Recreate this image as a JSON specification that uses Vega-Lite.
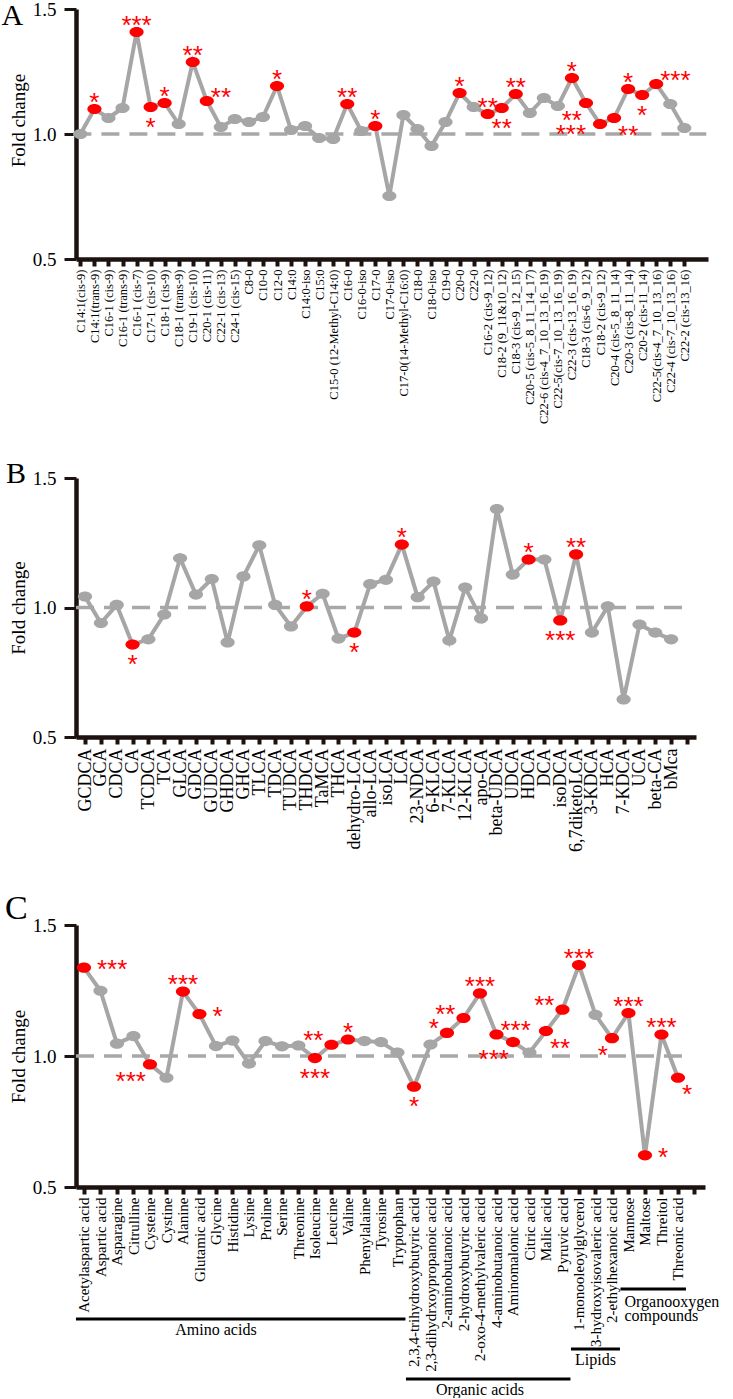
{
  "$schema": "https://vega.github.io/schema/vega-lite/v6.json",
  "padding": {"left": 1, "top": 0, "right": 0, "bottom": 0},
  "autosize": {"type": "pad"},
  "background": "white",
  "spacing": 0,
  "config": {
    "view": {"stroke": null},
    "font": "Liberation Serif",
    "axis": {"labelFont": "Liberation Serif", "titleFont": "Liberation Serif", "labelColor": "#000000", "titleColor": "#000000", "domainColor": "#1c1210", "tickColor": "#1c1210", "grid": false, "titleFontWeight": "normal"}
  },
  "datasets": {
    "fatty": [
      {"compound": "C14:1(cis-9)", "fc": 1.0, "sig": "", "side": ""},
      {"compound": "C14:1(trans-9)", "fc": 1.1, "sig": "*", "side": "above"},
      {"compound": "C16-1 (cis-9)", "fc": 1.064, "sig": "", "side": ""},
      {"compound": "C16-1 (trans-9)", "fc": 1.104, "sig": "", "side": ""},
      {"compound": "C16-1 (cis-7)", "fc": 1.408, "sig": "***", "side": "above"},
      {"compound": "C17-1 (cis-10)", "fc": 1.108, "sig": "*", "side": "below"},
      {"compound": "C18-1 (cis-9)", "fc": 1.124, "sig": "*", "side": "above"},
      {"compound": "C18-1 (trans-9)", "fc": 1.04, "sig": "", "side": ""},
      {"compound": "C19-1 (cis-10)", "fc": 1.288, "sig": "**", "side": "above"},
      {"compound": "C20-1 (cis-11)", "fc": 1.132, "sig": "**", "side": "upper-right"},
      {"compound": "C22-1 (cis-13)", "fc": 1.028, "sig": "", "side": ""},
      {"compound": "C24-1 (cis-15)", "fc": 1.06, "sig": "", "side": ""},
      {"compound": "C8-0", "fc": 1.048, "sig": "", "side": ""},
      {"compound": "C10-0", "fc": 1.068, "sig": "", "side": ""},
      {"compound": "C12-0", "fc": 1.192, "sig": "*", "side": "above"},
      {"compound": "C14:0", "fc": 1.016, "sig": "", "side": ""},
      {"compound": "C14:0-iso", "fc": 1.032, "sig": "", "side": ""},
      {"compound": "C15:0", "fc": 0.984, "sig": "", "side": ""},
      {"compound": "C15-0 (12-Methyl-C14:0)", "fc": 0.98, "sig": "", "side": ""},
      {"compound": "C16-0", "fc": 1.12, "sig": "**", "side": "above"},
      {"compound": "C16-0-iso", "fc": 1.012, "sig": "", "side": ""},
      {"compound": "C17-0", "fc": 1.032, "sig": "*", "side": "above"},
      {"compound": "C17-0-iso", "fc": 0.752, "sig": "", "side": ""},
      {"compound": "C17-0(14-Methyl-C16:0)", "fc": 1.076, "sig": "", "side": ""},
      {"compound": "C18-0", "fc": 1.02, "sig": "", "side": ""},
      {"compound": "C18-0-iso", "fc": 0.952, "sig": "", "side": ""},
      {"compound": "C19-0", "fc": 1.048, "sig": "", "side": ""},
      {"compound": "C20-0", "fc": 1.164, "sig": "*", "side": "above"},
      {"compound": "C22-0", "fc": 1.108, "sig": "", "side": ""},
      {"compound": "C16-2 (cis-9_12)", "fc": 1.08, "sig": "**", "side": "above"},
      {"compound": "C18-2 (9_11&10_12)", "fc": 1.104, "sig": "**", "side": "below"},
      {"compound": "C18-3 (cis-9_12_15)", "fc": 1.16, "sig": "**", "side": "above"},
      {"compound": "C20-5 (cis-5_8_11_14_17)", "fc": 1.084, "sig": "", "side": ""},
      {"compound": "C22-6 (cis-4_7_10_13_16_19)", "fc": 1.144, "sig": "", "side": ""},
      {"compound": "C22-5(cis-7_10_13_16_19)", "fc": 1.112, "sig": "", "side": ""},
      {"compound": "C22-3 (cis-13_16_19)", "fc": 1.224, "sig": "*", "side": "above"},
      {"compound": "C18-3 (cis-6_9_12)", "fc": 1.124, "sig": "**", "side": "lower-left"},
      {"compound": "C18-2 (cis-9_12)", "fc": 1.04, "sig": "***", "side": "left"},
      {"compound": "C20-4 (cis-5_8_11_14)", "fc": 1.064, "sig": "**", "side": "lower-right"},
      {"compound": "C20-3 (cis-8_11_14)", "fc": 1.18, "sig": "*", "side": "above"},
      {"compound": "C20-2 (cis-11_14)", "fc": 1.156, "sig": "*", "side": "below"},
      {"compound": "C22-5(cis-4_7_10_13_16)", "fc": 1.2, "sig": "***", "side": "upper-right"},
      {"compound": "C22-4 (cis-7_10_13_16)", "fc": 1.12, "sig": "", "side": ""},
      {"compound": "C22-2 (cis-13_16)", "fc": 1.024, "sig": "", "side": ""}
    ],
    "bile": [
      {"compound": "GCDCA", "fc": 1.042, "sig": "", "side": ""},
      {"compound": "GCA", "fc": 0.94, "sig": "", "side": ""},
      {"compound": "CDCA", "fc": 1.01, "sig": "", "side": ""},
      {"compound": "CA", "fc": 0.857, "sig": "*", "side": "below"},
      {"compound": "TCDCA", "fc": 0.877, "sig": "", "side": ""},
      {"compound": "TCA", "fc": 0.973, "sig": "", "side": ""},
      {"compound": "GLCA", "fc": 1.19, "sig": "", "side": ""},
      {"compound": "GDCA", "fc": 1.05, "sig": "", "side": ""},
      {"compound": "GUDCA", "fc": 1.11, "sig": "", "side": ""},
      {"compound": "GHDCA", "fc": 0.865, "sig": "", "side": ""},
      {"compound": "GHCA", "fc": 1.12, "sig": "", "side": ""},
      {"compound": "TLCA", "fc": 1.24, "sig": "", "side": ""},
      {"compound": "TDCA", "fc": 1.01, "sig": "", "side": ""},
      {"compound": "TUDCA", "fc": 0.927, "sig": "", "side": ""},
      {"compound": "THDCA", "fc": 1.004, "sig": "*", "side": "above"},
      {"compound": "TaMCA", "fc": 1.053, "sig": "", "side": ""},
      {"compound": "THCA", "fc": 0.88, "sig": "", "side": ""},
      {"compound": "dehydro-LCA", "fc": 0.903, "sig": "*", "side": "below"},
      {"compound": "allo-LCA", "fc": 1.09, "sig": "", "side": ""},
      {"compound": "isoLCA", "fc": 1.107, "sig": "", "side": ""},
      {"compound": "LCA", "fc": 1.243, "sig": "*", "side": "above"},
      {"compound": "23-NDCA", "fc": 1.04, "sig": "", "side": ""},
      {"compound": "6-KLCA", "fc": 1.1, "sig": "", "side": ""},
      {"compound": "7-KLCA", "fc": 0.873, "sig": "", "side": ""},
      {"compound": "12-KLCA", "fc": 1.077, "sig": "", "side": ""},
      {"compound": "apo-CA", "fc": 0.958, "sig": "", "side": ""},
      {"compound": "beta-UDCA", "fc": 1.38, "sig": "", "side": ""},
      {"compound": "UDCA", "fc": 1.127, "sig": "", "side": ""},
      {"compound": "HDCA", "fc": 1.185, "sig": "*", "side": "above"},
      {"compound": "DCA", "fc": 1.185, "sig": "", "side": ""},
      {"compound": "isoDCA", "fc": 0.95, "sig": "***", "side": "below"},
      {"compound": "6,7diketoLCA", "fc": 1.205, "sig": "**", "side": "above"},
      {"compound": "3-KDCA", "fc": 0.903, "sig": "", "side": ""},
      {"compound": "HCA", "fc": 1.004, "sig": "", "side": ""},
      {"compound": "7-KDCA", "fc": 0.645, "sig": "", "side": ""},
      {"compound": "UCA", "fc": 0.934, "sig": "", "side": ""},
      {"compound": "beta-CA", "fc": 0.903, "sig": "", "side": ""},
      {"compound": "bMca", "fc": 0.877, "sig": "", "side": ""}
    ],
    "amino": [
      {"compound": "Acetylaspartic acid", "fc": 1.337, "sig": "***", "side": "right"},
      {"compound": "Aspartic acid", "fc": 1.249, "sig": "", "side": ""},
      {"compound": "Asparagine", "fc": 1.047, "sig": "", "side": ""},
      {"compound": "Citrulline", "fc": 1.076, "sig": "", "side": ""},
      {"compound": "Cysteine", "fc": 0.968, "sig": "***", "side": "lower-left"},
      {"compound": "Cystine", "fc": 0.917, "sig": "", "side": ""},
      {"compound": "Alanine", "fc": 1.246, "sig": "***", "side": "above"},
      {"compound": "Glutamic acid", "fc": 1.16, "sig": "*", "side": "right"},
      {"compound": "Glycine", "fc": 1.038, "sig": "", "side": ""},
      {"compound": "Histidine", "fc": 1.059, "sig": "", "side": ""},
      {"compound": "Lysine", "fc": 0.971, "sig": "", "side": ""},
      {"compound": "Proline", "fc": 1.057, "sig": "", "side": ""},
      {"compound": "Serine", "fc": 1.037, "sig": "", "side": ""},
      {"compound": "Threonine", "fc": 1.04, "sig": "", "side": ""},
      {"compound": "Isoleucine", "fc": 0.992, "sig": "***", "side": "below"},
      {"compound": "Leucine", "fc": 1.043, "sig": "**", "side": "upper-left"},
      {"compound": "Valine", "fc": 1.063, "sig": "*", "side": "above"},
      {"compound": "Phenylalaine", "fc": 1.057, "sig": "", "side": ""},
      {"compound": "Tyrosine", "fc": 1.053, "sig": "", "side": ""},
      {"compound": "Tryptophan", "fc": 1.013, "sig": "", "side": ""},
      {"compound": "2,3,4-trihydroxybutyric acid", "fc": 0.883, "sig": "*", "side": "below"},
      {"compound": "2,3-dihydrxoypropanoic acid", "fc": 1.044, "sig": "", "side": ""},
      {"compound": "2-aminobutanoic acid", "fc": 1.088, "sig": "*", "side": "upper-left"},
      {"compound": "2-hydroxybutyric acid", "fc": 1.145, "sig": "**", "side": "upper-left"},
      {"compound": "2-oxo-4-methylvaleric acid", "fc": 1.239, "sig": "***", "side": "above"},
      {"compound": "4-aminobutanoic acid", "fc": 1.082, "sig": "***", "side": "upper-right"},
      {"compound": "Aminomalonic acid", "fc": 1.053, "sig": "***", "side": "lower-left"},
      {"compound": "Citric acid", "fc": 1.013, "sig": "", "side": ""},
      {"compound": "Malic acid", "fc": 1.095, "sig": "**", "side": "lower-right"},
      {"compound": "Pyruvic acid", "fc": 1.177, "sig": "**", "side": "upper-left"},
      {"compound": "1-monooleoylglycerol", "fc": 1.347, "sig": "***", "side": "above"},
      {"compound": "3-hydroxyisovaleric acid", "fc": 1.157, "sig": "", "side": ""},
      {"compound": "2-ethylhexanoic acid", "fc": 1.068, "sig": "*", "side": "lower-left"},
      {"compound": "Mannose", "fc": 1.164, "sig": "***", "side": "above"},
      {"compound": "Maltose", "fc": 0.621, "sig": "*", "side": "right"},
      {"compound": "Threitol", "fc": 1.082, "sig": "***", "side": "above"},
      {"compound": "Threonic acid", "fc": 0.917, "sig": "*", "side": "lower-right"}
    ],
    "groups": [
      {"group": "Amino acids", "first": "Acetylaspartic acid", "last": "Tryptophan", "mid": "Glycine"},
      {"group": "Organic acids", "first": "2,3,4-trihydroxybutyric acid", "last": "Pyruvic acid", "mid": "2-oxo-4-methylvaleric acid"},
      {"group": "Lipids", "first": "1-monooleoylglycerol", "last": "2-ethylhexanoic acid", "mid": "3-hydroxyisovaleric acid"},
      {"group": "Organooxygen compounds", "first": "Mannose", "last": "Threonic acid", "mid": "Mannose"}
    ]
  },
  "vconcat": [
    {
      "width": 632,
      "height": 250,
      "layer": [
        {
          "data": {"values": [{"ref": 1}]},
          "mark": {"type": "rule", "color": "#a8a8a8", "strokeWidth": 3.5, "strokeDash": [18, 10], "xOffset": -7, "x2Offset": 22},
          "encoding": {
            "x": {"datum": "C14:1(cis-9)", "type": "nominal"},
            "x2": {"datum": "C22-2 (cis-13_16)"},
            "y": {"field": "ref", "type": "quantitative"}
          }
        },
        {
          "data": {"name": "fatty"},
          "mark": {"type": "line", "color": "#a6a6a6", "strokeWidth": 4},
          "encoding": {
            "x": {"field": "compound", "type": "nominal", "sort": null,
              "scale": {"type": "point", "domain": ["C14:1(cis-9)", "C14:1(trans-9)", "C16-1 (cis-9)", "C16-1 (trans-9)", "C16-1 (cis-7)", "C17-1 (cis-10)", "C18-1 (cis-9)", "C18-1 (trans-9)", "C19-1 (cis-10)", "C20-1 (cis-11)", "C22-1 (cis-13)", "C24-1 (cis-15)", "C8-0", "C10-0", "C12-0", "C14:0", "C14:0-iso", "C15:0", "C15-0 (12-Methyl-C14:0)", "C16-0", "C16-0-iso", "C17-0", "C17-0-iso", "C17-0(14-Methyl-C16:0)", "C18-0", "C18-0-iso", "C19-0", "C20-0", "C22-0", "C16-2 (cis-9_12)", "C18-2 (9_11&10_12)", "C18-3 (cis-9_12_15)", "C20-5 (cis-5_8_11_14_17)", "C22-6 (cis-4_7_10_13_16_19)", "C22-5(cis-7_10_13_16_19)", "C22-3 (cis-13_16_19)", "C18-3 (cis-6_9_12)", "C18-2 (cis-9_12)", "C20-4 (cis-5_8_11_14)", "C20-3 (cis-8_11_14)", "C20-2 (cis-11_14)", "C22-5(cis-4_7_10_13_16)", "C22-4 (cis-7_10_13_16)", "C22-2 (cis-13_16)"], "padding": 1.6, "align": 0.156},
              "axis": {"title": null, "labelAngle": -90, "labelFontSize": 12.5, "labelPadding": 3, "tickSize": 7, "tickWidth": 4, "domainWidth": 4.5, "labelOverlap": false, "labelBound": false, "labelLimit": 0, "minExtent": 200, "maxExtent": 200}},
            "y": {"field": "fc", "type": "quantitative",
              "scale": {"domain": [0.5, 1.5], "nice": false, "zero": false},
              "axis": {"values": [0.5, 1, 1.5], "format": ".1f", "title": "Fold change", "titleFontSize": 19, "titlePadding": 3, "titleY": 111, "labelFontSize": 19, "labelPadding": 8, "tickSize": 12, "tickWidth": 3, "domainWidth": 4.5, "labelFlush": false, "minExtent": 45, "maxExtent": 45}},
            "order": {"value": null}
          }
        },
        {
          "data": {"name": "fatty"},
          "mark": {"type": "point", "filled": true, "opacity": 1, "shape": "M-1,0A1,0.72,0,1,1,1,0A1,0.72,0,1,1,-1,0Z", "size": 200},
          "encoding": {
            "x": {"field": "compound", "type": "nominal"},
            "y": {"field": "fc", "type": "quantitative"},
            "color": {"condition": {"test": "datum.sig != ''", "value": "#ff0000"}, "value": "#a6a6a6"}
          }
        },
        {
          "data": {"name": "fatty"},
          "transform": [{"filter": "datum.sig != ''"}],
          "mark": {"type": "text", "color": "#ff0000", "font": "Liberation Sans", "fontSize": 26, "letterSpacing": 3, "baseline": "middle",
            "dx": {"expr": "datum.side=='right'?13:datum.side=='left'?-14:indexof(datum.side,'right')>=0?4:datum.side=='upper-left'?-8:datum.side=='lower-left'?-4:0"},
            "dy": {"expr": "(datum.side=='above'?-13:datum.side=='below'?14:indexof(datum.side,'upper')>=0?-10:indexof(datum.side,'lower')>=0?11:datum.side=='left'?4:-4)+6.5"},
            "align": {"expr": "indexof(datum.side,'right')>=0?'left':indexof(datum.side,'left')>=0?'right':'center'"}},
          "encoding": {
            "x": {"field": "compound", "type": "nominal"},
            "y": {"field": "fc", "type": "quantitative"},
            "text": {"field": "sig"}
          }
        },
        {
          "data": {"values": [{"panel": "A"}]},
          "mark": {"type": "text", "font": "Liberation Serif", "fontSize": 30, "align": "left", "baseline": "alphabetic", "dx": -79, "dy": 16, "color": "#000000"},
          "encoding": {
            "x": {"datum": "C14:1(cis-9)", "type": "nominal"},
            "y": {"datum": 1.5, "type": "quantitative"},
            "text": {"field": "panel"}
          }
        }
      ]
    },
    {
      "width": 620,
      "height": 259,
      "layer": [
        {
          "data": {"values": [{"ref": 1}]},
          "mark": {"type": "rule", "color": "#a8a8a8", "strokeWidth": 3.5, "strokeDash": [18, 10], "xOffset": -9, "x2Offset": 12},
          "encoding": {
            "x": {"datum": "GCDCA", "type": "nominal"},
            "x2": {"datum": "bMca"},
            "y": {"field": "ref", "type": "quantitative"}
          }
        },
        {
          "data": {"name": "bile"},
          "mark": {"type": "line", "color": "#a6a6a6", "strokeWidth": 4},
          "encoding": {
            "x": {"field": "compound", "type": "nominal", "sort": null,
              "scale": {"type": "point", "domain": ["GCDCA", "GCA", "CDCA", "CA", "TCDCA", "TCA", "GLCA", "GDCA", "GUDCA", "GHDCA", "GHCA", "TLCA", "TDCA", "TUDCA", "THDCA", "TaMCA", "THCA", "dehydro-LCA", "allo-LCA", "isoLCA", "LCA", "23-NDCA", "6-KLCA", "7-KLCA", "12-KLCA", "apo-CA", "beta-UDCA", "UDCA", "HDCA", "DCA", "isoDCA", "6,7diketoLCA", "3-KDCA", "HCA", "7-KDCA", "UCA", "beta-CA", "bMca", " "], "padding": 0.57, "align": 0.5},
              "axis": {"title": null, "labelAngle": -90, "labelFontSize": 18, "labelPadding": 4, "tickSize": 7, "tickWidth": 4, "domainWidth": 4.5, "labelOverlap": false, "labelBound": false, "labelLimit": 0, "minExtent": 155, "maxExtent": 155}},
            "y": {"field": "fc", "type": "quantitative",
              "scale": {"domain": [0.5, 1.5], "nice": false, "zero": false},
              "axis": {"values": [0.5, 1, 1.5], "format": ".1f", "title": "Fold change", "titleFontSize": 19, "titlePadding": 3, "labelFontSize": 19, "labelPadding": 8, "tickSize": 12, "tickWidth": 3, "domainWidth": 4.5, "labelFlush": false, "minExtent": 45, "maxExtent": 45}},
            "order": {"value": null}
          }
        },
        {
          "data": {"name": "bile"},
          "mark": {"type": "point", "filled": true, "opacity": 1, "shape": "M-1,0A1,0.72,0,1,1,1,0A1,0.72,0,1,1,-1,0Z", "size": 200},
          "encoding": {
            "x": {"field": "compound", "type": "nominal"},
            "y": {"field": "fc", "type": "quantitative"},
            "color": {"condition": {"test": "datum.sig != ''", "value": "#ff0000"}, "value": "#a6a6a6"}
          }
        },
        {
          "data": {"name": "bile"},
          "transform": [{"filter": "datum.sig != ''"}],
          "mark": {"type": "text", "color": "#ff0000", "font": "Liberation Sans", "fontSize": 26, "letterSpacing": 3, "baseline": "middle",
            "dx": {"expr": "datum.side=='right'?13:datum.side=='left'?-14:indexof(datum.side,'right')>=0?4:datum.side=='upper-left'?-8:datum.side=='lower-left'?-4:0"},
            "dy": {"expr": "(datum.side=='above'?-13:datum.side=='below'?14:indexof(datum.side,'upper')>=0?-10:indexof(datum.side,'lower')>=0?11:datum.side=='left'?4:-4)+6.5"},
            "align": {"expr": "indexof(datum.side,'right')>=0?'left':indexof(datum.side,'left')>=0?'right':'center'"}},
          "encoding": {
            "x": {"field": "compound", "type": "nominal"},
            "y": {"field": "fc", "type": "quantitative"},
            "text": {"field": "sig"}
          }
        },
        {
          "data": {"values": [{"panel": "B"}]},
          "mark": {"type": "text", "font": "Liberation Serif", "fontSize": 30, "align": "left", "baseline": "alphabetic", "dx": -79, "dy": 5, "color": "#000000"},
          "encoding": {
            "x": {"datum": "GCDCA", "type": "nominal"},
            "y": {"datum": 1.5, "type": "quantitative"},
            "text": {"field": "panel"}
          }
        }
      ]
    },
    {
      "width": 629,
      "height": 262,
      "layer": [
        {
          "layer": [
            {
              "data": {"values": [{"ref": 1}]},
              "mark": {"type": "rule", "color": "#a8a8a8", "strokeWidth": 3.5, "strokeDash": [18, 10], "xOffset": -8, "x2Offset": 13},
              "encoding": {
                "x": {"datum": "Acetylaspartic acid", "type": "nominal"},
                "x2": {"datum": "Threonic acid"},
                "y": {"field": "ref", "type": "quantitative"}
              }
            },
            {
              "data": {"name": "amino"},
              "mark": {"type": "line", "color": "#a6a6a6", "strokeWidth": 4},
              "encoding": {
                "x": {"field": "compound", "type": "nominal", "sort": null,
                  "scale": {"type": "point", "domain": ["Acetylaspartic acid", "Aspartic acid", "Asparagine", "Citrulline", "Cysteine", "Cystine", "Alanine", "Glutamic acid", "Glycine", "Histidine", "Lysine", "Proline", "Serine", "Threonine", "Isoleucine", "Leucine", "Valine", "Phenylalaine", "Tyrosine", "Tryptophan", "2,3,4-trihydroxybutyric acid", "2,3-dihydrxoypropanoic acid", "2-aminobutanoic acid", "2-hydroxybutyric acid", "2-oxo-4-methylvaleric acid", "4-aminobutanoic acid", "Aminomalonic acid", "Citric acid", "Malic acid", "Pyruvic acid", "1-monooleoylglycerol", "3-hydroxyisovaleric acid", "2-ethylhexanoic acid", "Mannose", "Maltose", "Threitol", "Threonic acid", " "], "padding": 0.56, "align": 0.43},
                  "axis": {"title": null, "labelAngle": -90, "labelFontSize": 15, "labelPadding": 3, "tickSize": 7, "tickWidth": 4, "domainWidth": 4.5, "labelOverlap": false, "labelBound": false, "labelLimit": 0}},
                "y": {"field": "fc", "type": "quantitative",
                  "scale": {"domain": [0.5, 1.5], "nice": false, "zero": false},
                  "axis": {"values": [0.5, 1, 1.5], "format": ".1f", "title": "Fold change", "titleFontSize": 19, "titlePadding": 3, "labelFontSize": 19, "labelPadding": 8, "tickSize": 12, "tickWidth": 3, "domainWidth": 4.5, "labelFlush": false, "minExtent": 45, "maxExtent": 45}},
                "order": {"value": null}
              }
            },
            {
              "data": {"name": "amino"},
              "mark": {"type": "point", "filled": true, "opacity": 1, "shape": "M-1,0A1,0.72,0,1,1,1,0A1,0.72,0,1,1,-1,0Z", "size": 200},
              "encoding": {
                "x": {"field": "compound", "type": "nominal"},
                "y": {"field": "fc", "type": "quantitative"},
                "color": {"condition": {"test": "datum.sig != ''", "value": "#ff0000"}, "value": "#a6a6a6"}
              }
            },
            {
              "data": {"name": "amino"},
              "transform": [{"filter": "datum.sig != ''"}],
              "mark": {"type": "text", "color": "#ff0000", "font": "Liberation Sans", "fontSize": 26, "letterSpacing": 3, "baseline": "middle",
                "dx": {"expr": "datum.side=='right'?13:datum.side=='left'?-14:indexof(datum.side,'right')>=0?4:datum.side=='upper-left'?-8:datum.side=='lower-left'?-4:0"},
                "dy": {"expr": "(datum.side=='above'?-13:datum.side=='below'?14:indexof(datum.side,'upper')>=0?-10:indexof(datum.side,'lower')>=0?11:datum.side=='left'?4:-4)+6.5"},
                "align": {"expr": "indexof(datum.side,'right')>=0?'left':indexof(datum.side,'left')>=0?'right':'center'"}},
              "encoding": {
                "x": {"field": "compound", "type": "nominal"},
                "y": {"field": "fc", "type": "quantitative"},
                "text": {"field": "sig"}
              }
            },
            {
              "data": {"values": [{"panel": "C"}]},
              "mark": {"type": "text", "font": "Liberation Serif", "fontSize": 34, "align": "left", "baseline": "alphabetic", "dx": -79, "dy": -6, "color": "#000000"},
              "encoding": {
                "x": {"datum": "Acetylaspartic acid", "type": "nominal"},
                "y": {"datum": 1.5, "type": "quantitative"},
                "text": {"field": "panel"}
              }
            }
          ]
        },
        {
          "data": {"name": "groups"},
          "layer": [
            {
              "mark": {"type": "rule", "color": "#000000", "strokeWidth": 3, "xOffset": -8, "x2Offset": 8},
              "encoding": {
                "x": {"field": "first", "type": "nominal"},
                "x2": {"field": "last"},
                "y": {"field": "group", "type": "nominal", "axis": null,
                  "scale": {"type": "point", "domain": ["Organooxygen compounds", "Amino acids", "Lipids", "Organic acids"], "range": [364, 454], "padding": 0}}
              }
            },
            {
              "transform": [{"filter": "datum.group != 'Organooxygen compounds'"}],
              "mark": {"type": "text", "font": "Liberation Serif", "fontSize": 16, "align": "center", "baseline": "middle", "dy": 11, "color": "#000000"},
              "encoding": {
                "x": {"field": "mid", "type": "nominal"},
                "y": {"field": "group", "type": "nominal"},
                "text": {"field": "group"}
              }
            },
            {
              "transform": [{"filter": "datum.group == 'Organooxygen compounds'"}],
              "mark": {"type": "text", "font": "Liberation Serif", "fontSize": 16, "align": "left", "baseline": "top", "dx": -4, "dy": 5, "lineBreak": " ", "lineHeight": 14, "color": "#000000"},
              "encoding": {
                "x": {"field": "mid", "type": "nominal"},
                "y": {"field": "group", "type": "nominal"},
                "text": {"field": "group"}
              }
            }
          ]
        }
      ],
      "resolve": {"scale": {"y": "independent"}}
    }
  ]
}
